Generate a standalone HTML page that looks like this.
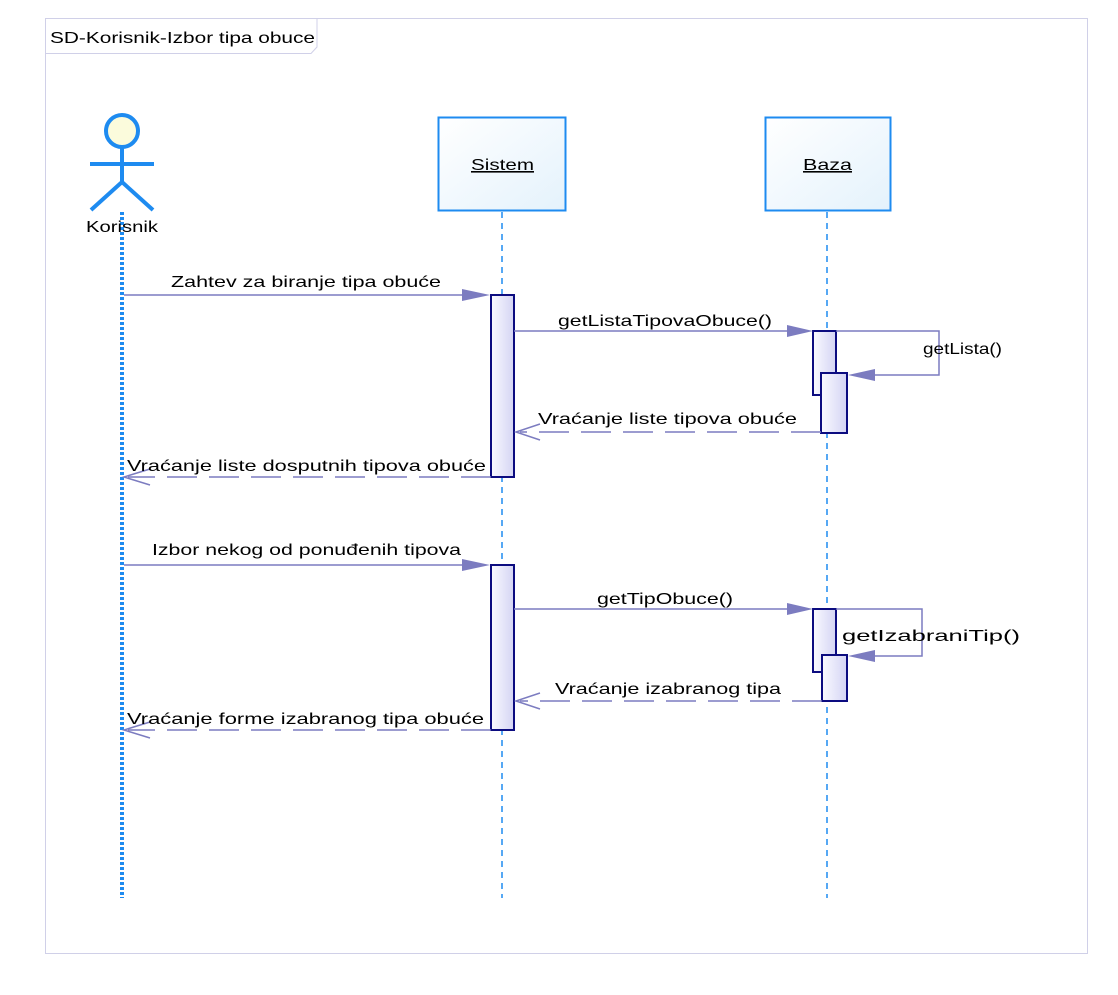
<!DOCTYPE html>
<html><head><style>body{margin:0;background:#fff}svg text{font-family:"Liberation Sans",sans-serif;font-size:16px;fill:#000}</style></head>
<body>
<svg width="1118" height="990" xmlns="http://www.w3.org/2000/svg">
<defs>
<linearGradient id="g" x1="0" x2="1" y1="0" y2="1"><stop offset="0" stop-color="#fff"/><stop offset="1" stop-color="#e4f2fc"/></linearGradient>
<linearGradient id="a" x1="0" x2="1"><stop offset="0" stop-color="#fafaff"/><stop offset="1" stop-color="#d4d4f4"/></linearGradient>
</defs>
<rect x="45.5" y="18.5" width="1042" height="935" fill="#fff" stroke="#d0d0e8"/>
<path d="M45.5 53.5H311L317 47V18.5" fill="none" stroke="#d0d0e8"/>
<text x="50" y="43" textLength="265" lengthAdjust="spacingAndGlyphs">SD-Korisnik-Izbor tipa obuce</text>
<circle cx="122" cy="131" r="16" fill="#fbfbdc" stroke="#1e8bf0" stroke-width="4"/>
<g stroke="#1e8bf0" stroke-width="4"><line x1="122" y1="147" x2="122" y2="182"/><line x1="90" y1="164" x2="154" y2="164"/><line x1="122" y1="182" x2="91" y2="210"/><line x1="122" y1="182" x2="153" y2="210"/></g>
<line x1="122" y1="212" x2="122" y2="898" stroke="#1e8bf0" stroke-width="4" stroke-dasharray="3,2"/>
<text x="86" y="232" fill="#222" textLength="72" lengthAdjust="spacingAndGlyphs">Korisnik</text>
<rect x="438.5" y="117.5" width="127" height="93" fill="url(#g)" stroke="#1e8bf0" stroke-width="2"/>
<text x="471" y="170" text-decoration="underline" textLength="63" lengthAdjust="spacingAndGlyphs">Sistem</text>
<rect x="765.5" y="117.5" width="125" height="93" fill="url(#g)" stroke="#1e8bf0" stroke-width="2"/>
<text x="803" y="170" text-decoration="underline" textLength="49" lengthAdjust="spacingAndGlyphs">Baza</text>
<g stroke="#1e8bf0" stroke-width="1.5" stroke-dasharray="6,5"><line x1="502" y1="212" x2="502" y2="898"/><line x1="827" y1="212" x2="827" y2="898"/></g>
<g fill="url(#a)" stroke="#0c0c80" stroke-width="2">
<rect x="491" y="295" width="23" height="182"/>
<rect x="813" y="331" width="23" height="64"/>
<rect x="821" y="373" width="26" height="60"/>
<rect x="491" y="565" width="23" height="165"/>
<rect x="813" y="609" width="23" height="63"/>
<rect x="822" y="655" width="25" height="46"/>
</g>
<g stroke="#7c7cc0" stroke-width="1.5" fill="none">
<line x1="124" y1="295" x2="470" y2="295"/>
<line x1="514" y1="331" x2="792" y2="331"/>
<polyline points="836,331 939,331 939,375 862,375"/>
<line x1="821" y1="432" x2="520" y2="432" stroke-dasharray="30,12"/>
<line x1="491" y1="477" x2="128" y2="477" stroke-dasharray="30,12"/>
<line x1="124" y1="565" x2="470" y2="565"/>
<line x1="514" y1="609" x2="792" y2="609"/>
<polyline points="836,609 922,609 922,656 872,656"/>
<line x1="822" y1="701" x2="520" y2="701" stroke-dasharray="30,12"/>
<line x1="491" y1="730" x2="128" y2="730" stroke-dasharray="30,12"/>
<path d="M540 424L516 432L540 440M150 469L124 477L150 485M540 693L516 701L540 709M150 722L124 730L150 738"/>
</g>
<g fill="#7c7cc0">
<path d="M462 289L490 295L462 301Z"/><path d="M787 325L813 331L787 337Z"/><path d="M875 369L848 375L875 381Z"/>
<path d="M462 559L490 565L462 571Z"/><path d="M787 603L813 609L787 615Z"/><path d="M875 650L848 656L875 662Z"/>
</g>
<g>
<text x="171" y="287" textLength="270" lengthAdjust="spacingAndGlyphs">Zahtev za biranje tipa obuće</text>
<text x="558" y="326" textLength="214" lengthAdjust="spacingAndGlyphs">getListaTipovaObuce()</text>
<text x="923" y="354" textLength="79" lengthAdjust="spacingAndGlyphs">getLista()</text>
<text x="538" y="424" textLength="259" lengthAdjust="spacingAndGlyphs">Vraćanje liste tipova obuće</text>
<text x="127" y="471" textLength="359" lengthAdjust="spacingAndGlyphs">Vraćanje liste dosputnih tipova obuće</text>
<text x="152" y="555" textLength="309" lengthAdjust="spacingAndGlyphs">Izbor nekog od ponuđenih tipova</text>
<text x="597" y="604" textLength="136" lengthAdjust="spacingAndGlyphs">getTipObuce()</text>
<text x="842" y="641" textLength="178" lengthAdjust="spacingAndGlyphs">getIzabraniTip()</text>
<text x="555" y="694" textLength="226" lengthAdjust="spacingAndGlyphs">Vraćanje izabranog tipa</text>
<text x="127" y="724" textLength="357" lengthAdjust="spacingAndGlyphs">Vraćanje forme izabranog tipa obuće</text>
</g>
</svg>
</body></html>
